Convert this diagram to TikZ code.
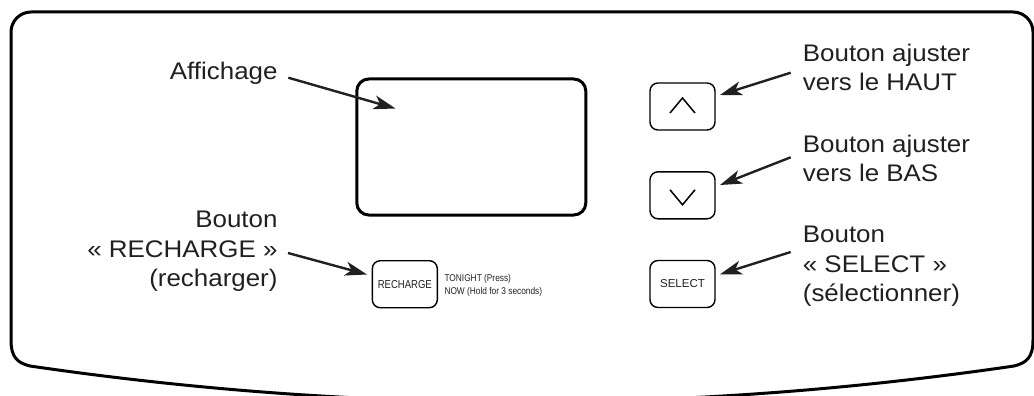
\documentclass[tikz,border=0pt]{standalone}
\usepackage{fontspec}
\setmainfont{Liberation Sans}
\newfontfamily\lblfont{Liberation Sans}[FakeStretch=1.08]
\newfontfamily\narrowfont{Liberation Sans}[FakeStretch=0.83]
\newfontfamily\smallfont{Liberation Sans}[FakeStretch=0.85]
\usetikzlibrary{arrows.meta}
\definecolor{ink}{RGB}{35,31,32}
\begin{document}
\begin{tikzpicture}[x=1pt,y=-1pt,
  panel/.style={draw=black,line width=3pt,line join=round},
  disp/.style={draw=black,line width=3pt,rounded corners=12pt,minimum width=229pt,minimum height=136pt,inner sep=0pt},
  btn/.style={draw=black,line width=1.4pt,rounded corners=8pt,minimum width=65pt,minimum height=47pt,inner sep=0pt,text=ink,font=\fontsize{11.5}{13}\selectfont},
  chev/.style={draw=black,line width=1.5pt},
  lbl/.style={inner sep=0pt,text=ink,font=\lblfont\fontsize{24}{29.5}\selectfont},
  smalltxt/.style={inner sep=0pt,text=ink,font=\smallfont\fontsize{9.8}{13}\selectfont},
  arr/.style={draw=ink,line width=2.4pt,-{Stealth[length=22pt,width=14pt,inset=6pt]}}
]
\useasboundingbox (0,0) rectangle (1034,396);
% outer panel
\draw[panel] (11,340) -- (11,32) .. controls (11,21) and (20,12) .. (31,12)
  -- (1013,12) .. controls (1024,12) and (1033,21) .. (1033,32)
  -- (1033,340) .. controls (1033,358) and (1026,363) .. (1014,366)
  .. controls (686,414) and (358,414) .. (30,366)
  .. controls (18,363) and (11,358) .. (11,340) -- cycle;
% display
\node[disp] (display) at (471.3,147) {};
% buttons
\node[btn] (up) at (682.5,106.5) {};
\node[btn] (down) at (682.5,195.3) {};
\node[btn] (select) at (682.5,284) {SELECT};
\node[btn] (recharge) at (404.8,284.2) {\narrowfont RECHARGE};
\draw[chev] ([shift={(-12.5,6.5)}]up.center) -- ([shift={(0,-8.5)}]up.center) -- ([shift={(12.5,6.5)}]up.center);
\draw[chev] ([shift={(-12.5,-5.5)}]down.center) -- ([shift={(0,9.5)}]down.center) -- ([shift={(12.5,-5.5)}]down.center);
\node[smalltxt,anchor=north west,align=left] (tonight) at (444.3,274) {TONIGHT (Press)\\NOW (Hold for 3 seconds)};
% labels
\node[lbl,anchor=base east] (affLbl) at (277.7,80) {Affichage};
\node[lbl,anchor=north east,align=right] (rechLbl) at (277.7,210.8) {Bouton\\« RECHARGE »\\(recharger)};
\node[lbl,anchor=north west,align=left] (upLbl) at (802.7,43.5) {Bouton ajuster\\vers le HAUT};
\node[lbl,anchor=north west,align=left] (downLbl) at (802.7,134.5) {Bouton ajuster\\vers le BAS};
\node[lbl,anchor=north west,align=left] (selLbl) at (802.7,225.8) {Bouton\\« SELECT »\\(sélectionner)};
% arrow end points
\coordinate (affS) at (288.3,77.7);
\coordinate (affT) at (395.5,108.5);
\coordinate (rechS) at (288,253);
\coordinate (rechT) at (367,274.5);
\coordinate (upS) at (790.7,72.7);
\coordinate (upT) at (720,95);
\coordinate (downS) at (790.7,157.3);
\coordinate (downT) at (720,185);
\coordinate (selS) at (790.7,252);
\coordinate (selT) at (720,274.3);
\draw[arr] (affS) -- (affT);
\draw[arr] (rechS) -- (rechT);
\draw[arr] (upS) -- (upT);
\draw[arr] (downS) -- (downT);
\draw[arr] (selS) -- (selT);
\end{tikzpicture}
\end{document}
